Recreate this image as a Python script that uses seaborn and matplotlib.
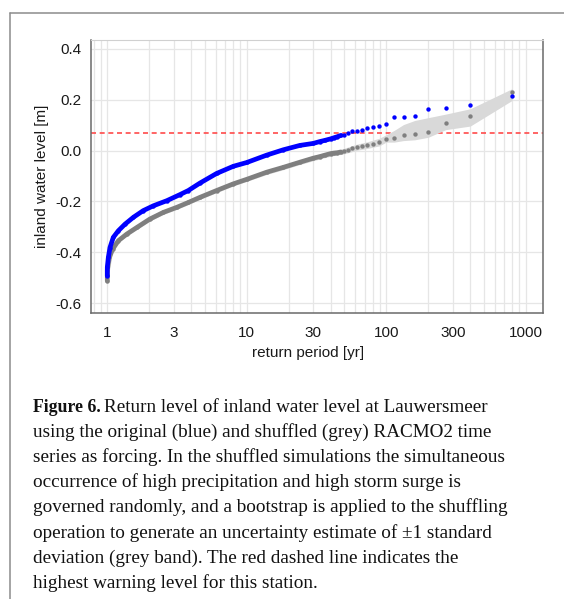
import matplotlib
matplotlib.use("Agg")
import numpy as np
import pandas as pd
import seaborn as sns
import matplotlib.pyplot as plt
from matplotlib.lines import Line2D
from matplotlib.ticker import LogLocator, FixedLocator, NullFormatter

# return period [yr] vs inland water level [m], original RACMO2 forcing (blue)
orig_T = [1.0, 1.0, 1.017, 1.045, 1.104, 1.2, 1.34, 1.54, 1.81, 2.14, 2.67, 3.32, 3.81,
          4.61, 6.08, 8.0, 10.0, 13.9, 18.3, 24.0, 30.0, 33.3, 36.4, 40.0, 42.1, 44.4,
          47.1, 50.0, 53.3, 57.1, 61.5, 66.7, 72.7, 80.0, 88.9, 100, 114, 133, 160,
          200, 267, 400, 800]
orig_level = [-0.492, -0.459, -0.42, -0.381, -0.341, -0.315, -0.289, -0.262, -0.236, -0.217,
              -0.197, -0.173, -0.157, -0.128, -0.09, -0.062, -0.047, -0.018, 0.003, 0.02,
              0.028, 0.035, 0.04, 0.046, 0.05, 0.054, 0.059, 0.062, 0.068, 0.075, 0.076,
              0.081, 0.089, 0.092, 0.098, 0.105, 0.131, 0.133, 0.135, 0.164, 0.168, 0.177,
              0.216]

# shuffled forcing (grey)
shuf_T = [1.0, 1.0, 1.0, 1.034, 1.093, 1.2, 1.38, 1.63, 2.02, 2.52, 3.15, 3.81, 4.61,
          6.08, 8.0, 10.0, 13.9, 18.3, 24.0, 30.0, 33.3, 36.4, 40.0, 42.1, 44.4, 47.1,
          50.0, 53.3, 57.1, 61.5, 66.7, 72.7, 80.0, 88.9, 100, 114, 133, 160, 200, 267,
          400, 800]
shuf_level = [-0.512, -0.49, -0.47, -0.42, -0.387, -0.354, -0.328, -0.302, -0.269, -0.243,
              -0.223, -0.204, -0.184, -0.157, -0.131, -0.113, -0.085, -0.066, -0.046,
              -0.03, -0.024, -0.018, -0.012, -0.01, -0.009, -0.006, -0.002, 0.004, 0.008,
              0.013, 0.017, 0.021, 0.025, 0.033, 0.045, 0.051, 0.059, 0.063, 0.074, 0.109,
              0.134, 0.23]

# bootstrap +-1 sd band of the shuffled runs
band_T = [1.0, 1.093, 1.2, 1.38, 1.63, 2.02, 2.52, 3.15, 3.81, 4.61, 6.08, 8.0, 10.0, 13.9,
          18.3, 24.0, 30.0, 40.0, 50.0, 61.5, 72.7, 88.9, 100, 114, 133, 160, 200, 267,
          400, 800]
band_lo = [-0.52, -0.395, -0.362, -0.336, -0.31, -0.277, -0.251, -0.231, -0.212, -0.192,
           -0.165, -0.139, -0.121, -0.094, -0.075, -0.055, -0.04, -0.022, -0.013, 0.001,
           0.008, 0.018, 0.033, 0.033, 0.039, 0.042, 0.052, 0.082, 0.096, 0.197]
band_hi = [-0.505, -0.379, -0.346, -0.32, -0.294, -0.261, -0.235, -0.215, -0.196, -0.176,
           -0.149, -0.123, -0.105, -0.076, -0.057, -0.037, -0.02, -0.002, 0.009, 0.025,
           0.034, 0.048, 0.062, 0.079, 0.102, 0.118, 0.129, 0.143, 0.164, 0.243]

warning_level = 0.068
dense_limit = 47.5   # below this the points merge into a continuous curve

x_ticks = [1, 3, 10, 30, 100, 300, 1000]
y_ticks = [-0.6, -0.4, -0.2, 0.0, 0.2, 0.4]

caption_bold = "Figure 6."
caption_lines = [
    "Return level of inland water level at Lauwersmeer",
    "using the original (blue) and shuffled (grey) RACMO2 time",
    "series as forcing. In the shuffled simulations the simultaneous",
    "occurrence of high precipitation and high storm surge is",
    "governed randomly, and a bootstrap is applied to the shuffling",
    "operation to generate an uncertainty estimate of \u00b11 standard",
    "deviation (grey band). The red dashed line indicates the",
    "highest warning level for this station.",
]

orig = pd.DataFrame({"T": orig_T, "level": orig_level})
shuf = pd.DataFrame({"T": shuf_T, "level": shuf_level})

sns.set_theme(style="white")
plt.rcParams["font.family"] = ["Liberation Sans", "DejaVu Sans"]

W, H = 564, 599
fig = plt.figure(figsize=(W / 100, H / 100), dpi=100)
ax = fig.add_axes([91 / W, 1 - 313 / H, 452 / W, 273 / H])

ax.set_xscale("log")
ax.set_xlim(0.764, 1330)
ax.set_ylim(-0.638, 0.434)

# grid
ax.xaxis.set_major_locator(FixedLocator(x_ticks))
ax.xaxis.set_minor_locator(LogLocator(base=10, subs=np.arange(1, 10)))
ax.xaxis.set_minor_formatter(NullFormatter())
ax.set_xticklabels([str(t) for t in x_ticks])
ax.yaxis.set_major_locator(FixedLocator(y_ticks))
ax.set_yticklabels([f"{t:.1f}" for t in y_ticks])
ax.grid(which="both", axis="x", color="#e6e6e6", lw=0.9, zorder=0)
ax.grid(which="major", axis="y", color="#e6e6e6", lw=0.9, zorder=0)
ax.set_axisbelow(True)

ax.axhline(warning_level, color="#ff4a4a", lw=1.2, ls=(0, (3, 2.2)), zorder=1)
ax.fill_between(band_T, band_lo, band_hi, color="#d9d9d9", lw=0, zorder=2)

dot = dict(s=10, linewidth=0, legend=False)
sns.lineplot(data=shuf[shuf["T"] < dense_limit], x="T", y="level", sort=False,
             estimator=None, color="#7f7f7f", lw=3.4, ax=ax, zorder=3,
             solid_capstyle="round")
sns.scatterplot(data=shuf, x="T", y="level", color="#7f7f7f", ax=ax, zorder=3, **dot)
sns.lineplot(data=orig[orig["T"] < dense_limit], x="T", y="level", sort=False,
             estimator=None, color="#0000ff", lw=3.4, ax=ax, zorder=4,
             solid_capstyle="round")
sns.scatterplot(data=orig, x="T", y="level", color="#0000ff", ax=ax, zorder=4, **dot)

for side in ["left", "bottom", "right"]:
    ax.spines[side].set_color("#6a6a6a")
    ax.spines[side].set_linewidth(1.1)
ax.spines["top"].set_color("#d0d0d0")
ax.spines["top"].set_linewidth(0.8)

ax.tick_params(which="major", length=4, width=1, color="#6a6a6a", labelsize=11,
               labelcolor="#1a1a1a", pad=3)
ax.tick_params(which="minor", length=0)
ax.tick_params(axis="x", which="major", top=False, pad=5.5)

ax.set_xlabel("return period [yr]", fontsize=11, color="#1a1a1a")
ax.set_ylabel("inland water level [m]", fontsize=11, color="#1a1a1a")
ax.xaxis.set_label_coords(0.48, -0.121)
ax.yaxis.set_label_coords(-0.092, 0.5)

# page frame around figure + caption
fig.add_artist(Line2D([9.5 / W, 9.5 / W], [0, 1 - 12.5 / H], transform=fig.transFigure,
                      color="#8c8c8c", lw=1.1))
fig.add_artist(Line2D([9.5 / W, 1], [1 - 12.5 / H, 1 - 12.5 / H], transform=fig.transFigure,
                      color="#8c8c8c", lw=1.1))

# caption
cap_font = ["Liberation Serif", "DejaVu Serif"]
cap_size = 13.8
x0 = 33 / W
base0 = 411.5
step = 25.2
renderer = fig.canvas.get_renderer()
tb = fig.text(x0, 1 - base0 / H, caption_bold, family=cap_font, weight="bold",
              fontsize=12.8, va="baseline", color="#111111")
bb = tb.get_window_extent(renderer=renderer)
for i, line in enumerate(caption_lines):
    xi = (bb.x1 + 3) / W if i == 0 else x0
    fig.text(xi, 1 - (base0 + i * step) / H, line, family=cap_font, fontsize=cap_size,
             va="baseline", color="#111111")

fig.savefig("out.png", dpi=100)
